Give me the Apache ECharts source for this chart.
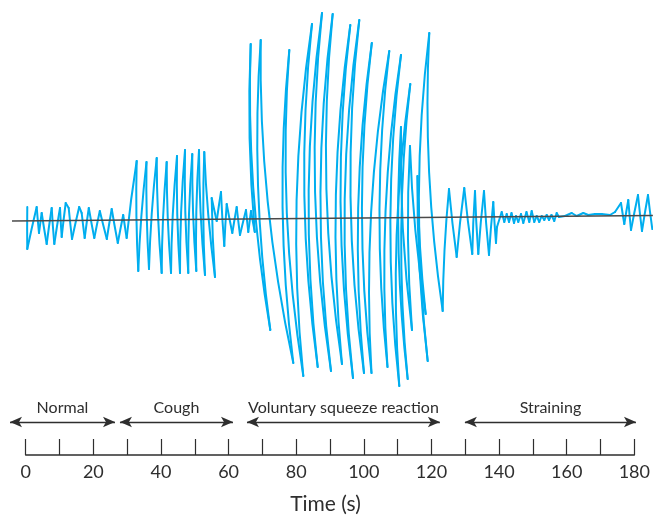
<!DOCTYPE html>
<html>
<head>
<meta charset="utf-8">
<script src="https://cdn.jsdelivr.net/npm/echarts@6/dist/echarts.min.js"></script>
<style>
  html, body { margin: 0; padding: 0; background: #ffffff; }
  #chart { width: 653px; height: 517px; }
</style>
</head>
<body>
<div id="chart"></div>
<script>
// ---- Data (time in s, pressure trace in arbitrary units) ----
const normalT = [0.47, 0.47, 3.25, 3.93, 4.73, 6.21, 7.69, 8.46, 10.15, 10.65, 11.83, 12.72, 13.70, 15.82, 16.56, 17.45, 18.66, 20.29, 21.92, 23.99, 25.44, 27.24, 28.84, 29.87];
const normalV = [14, -28, 14, -12, 8, -23, 13, -23, 13, -16, 18, 13, -18, 14, 8, -17, 13, -17, 10, -18, 12, -22, 6, -17];

const coughT = [32.83, 33.30, 35.73, 36.47, 38.75, 40.22, 41.70, 42.98, 44.75, 45.64, 47.12, 48.09, 49.27, 50.46, 51.26, 53.03, 52.82, 55.99, 55.01, 56.49, 57.76, 58.74, 59.45, 61.11, 62.41, 63.38, 65.16, 65.84, 66.64, 67.76];
const coughV = [60, -50, 59, -48, 63, -52, 59, -52, 65, -52, 71, -52, 67, -50, 71, -54, 69, -56, 23, 0, 29, -25, 17, -12, 14, -14, 11, -11, 10, -11];

const squeezeT = [66.55, 72.35, 69.51, 79.15, 77.97, 82.11, 84.68, 86.37, 87.64, 90.30, 90.80, 93.55, 96.01, 96.81, 98.67, 100.06, 102.37, 102.28, 107.54, 107.01, 111.00, 110.50, 113.75, 112.98, 111.00, 114.26, 113.66, 118.31, 115.88, 118.90, 119.37, 123.34, 125.20, 127.48, 129.72];
const squeezeV = [177, -109, 181, -142, 171, -155, 197, -146, 208, -150, 207, -143, 196, -157, 201, -152, 178, -152, 170, -146, 166, -165, 137, -158, 94, -109, 75, -93, 45, -140, 188, -90, 32, -36, 33];

const strainT = [132.09, 132.89, 133.87, 135.55, 137.03, 138.30, 139.10, 139.40, 140.79, 141.56, 142.27, 142.95, 143.69, 144.43, 145.02, 145.70, 146.50, 147.18, 148.12, 148.95, 149.66, 150.43, 151.14, 151.91, 152.62, 153.39, 154.10, 154.78, 155.51, 156.34, 157.05, 157.73, 159.51, 161.49, 162.97, 164.92, 166.40, 168.38, 170.36, 172.82, 174.30, 176.07, 177.05, 178.23, 179.03, 181.10, 182.28, 184.06, 185.33];
const strainV = [-33, 30, -33, 30, -34, 19, -22, -6, 9, -1, 7, -1, 8, -2, 5, -1, 7, -2, 9, -1, 10, -1, 5, -1, 5, 1, 6, 1, 6, 0, 8, 4, 5, 8, 5, 8, 6, 7, 7, 6, 9, 18, -3, 21, -9, 26, -10, 26, -8];

const baselineT = [-4.05, 185.5];
const baselineV = [0, 5.5];

const phaseNames = ['Normal', 'Cough', 'Voluntary squeeze reaction', 'Straining'];
const phaseStart = [-4.64, 27.88, 65.45, 129.9];
const phaseEnd = [26.41, 61.31, 122.5, 180.5];

const axisTitle = 'Time (s)';
const tickStep = 10;
const labelStep = 20;

// ---- Build library inputs ----
const allT = normalT.concat(coughT, squeezeT, strainT);
const allV = normalV.concat(coughV, squeezeV, strainV);
const segments = [];
for (let i = 0; i < allT.length - 1; i++) {
  segments.push([allT[i], allV[i], allT[i + 1], allV[i + 1]]);
}
const baselineData = baselineT.map((t, i) => [t, baselineV[i]]);
const arrowData = phaseNames.map((n, i) => [
  { name: n, coord: [phaseStart[i], 0.5] },
  { coord: [phaseEnd[i], 0.5] }
]);

const TRACE = '#00aeef';
const INK = '#2e2e2e';
const FONT = 'Lato, "Noto Sans", sans-serif';
const PEN_ARC_R = 1400; // curvature of the recorder pen arc

const chart = echarts.init(document.getElementById('chart'), null, { renderer: 'canvas' });
chart.setOption({
  animation: false,
  backgroundColor: '#ffffff',
  grid: [
    { left: 0, right: 0, top: 9, height: 382 },
    { left: 0, right: 0, top: 389, height: 66 },
    { left: 25.7, width: 608.6, top: 389, height: 66 }
  ],
  xAxis: [
    { gridIndex: 0, type: 'value', min: -7.6, max: 185.54, show: false },
    { gridIndex: 1, type: 'value', min: -7.6, max: 185.54, show: false },
    {
      gridIndex: 2, type: 'value', min: 0, max: 180, interval: tickStep,
      position: 'bottom',
      axisLine: { show: true, lineStyle: { color: INK, width: 1.5 } },
      axisTick: { show: true, inside: true, length: 16, lineStyle: { color: INK, width: 1.2 } },
      splitLine: { show: false },
      axisLabel: {
        show: true, margin: 8, color: INK, fontSize: 18, fontFamily: FONT,
        formatter: v => (v % labelStep === 0 ? String(v) : '')
      },
      name: axisTitle, nameLocation: 'middle', nameGap: 39,
      nameTextStyle: { color: INK, fontSize: 21, fontFamily: FONT, padding: [0, 9, 0, 0] }
    }
  ],
  yAxis: [
    { gridIndex: 0, type: 'value', min: -170, max: 212, show: false },
    { gridIndex: 1, type: 'value', min: 0, max: 1, show: false },
    { gridIndex: 2, type: 'value', min: 0, max: 1, show: false }
  ],
  series: [
    {
      type: 'custom',
      xAxisIndex: 0, yAxisIndex: 0,
      data: segments,
      encode: { x: [0, 2], y: [1, 3] },
      silent: true,
      renderItem: function (params, api) {
        const a = api.coord([api.value(0), api.value(1)]);
        const b = api.coord([api.value(2), api.value(3)]);
        const dy = b[1] - a[1];
        const bulge = dy * dy / (8 * PEN_ARC_R);
        return {
          type: 'bezierCurve',
          shape: {
            x1: a[0], y1: a[1], x2: b[0], y2: b[1],
            cpx1: (a[0] + b[0]) / 2 - 2 * bulge, cpy1: (a[1] + b[1]) / 2
          },
          style: { stroke: TRACE, lineWidth: 2, fill: 'none', lineCap: 'round', lineJoin: 'round' }
        };
      },
      z: 2
    },
    {
      type: 'line',
      xAxisIndex: 0, yAxisIndex: 0,
      data: baselineData,
      showSymbol: false, symbol: 'none', silent: true,
      lineStyle: { color: '#4a4a4a', width: 1.6 },
      z: 3
    },
    {
      type: 'line',
      xAxisIndex: 1, yAxisIndex: 1,
      data: [],
      silent: true,
      markLine: {
        silent: true,
        symbol: ['arrow', 'arrow'],
        symbolSize: [8, 12],
        lineStyle: { color: INK, width: 1.3, type: 'solid' },
        label: {
          show: true, position: 'insideMiddleTop', distance: 6,
          formatter: '{b}', color: INK, fontSize: 16, fontFamily: FONT
        },
        emphasis: { disabled: true },
        data: arrowData
      }
    }
  ]
});
</script>
</body>
</html>
